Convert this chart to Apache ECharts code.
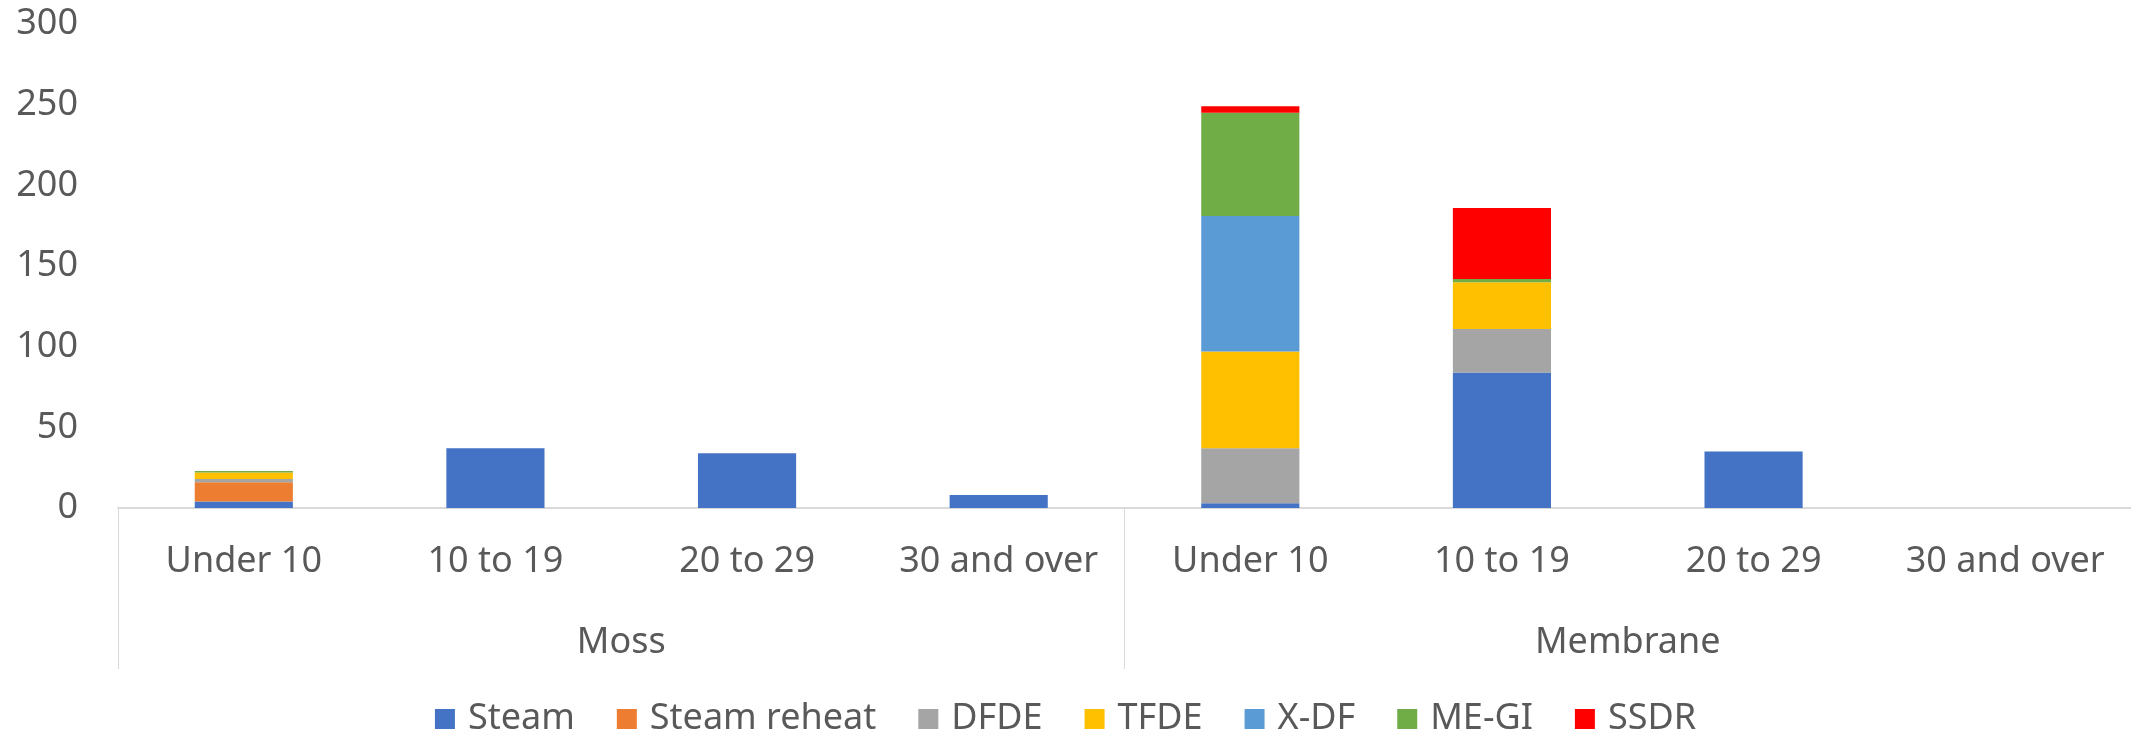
<!DOCTYPE html>
<html>
<head>
<meta charset="utf-8">
<script src="https://cdn.jsdelivr.net/npm/echarts@6/dist/echarts.min.js"></script>
<style>
  html, body { margin: 0; padding: 0; background: #fff; }
  #chart { width: 2131px; height: 735px; }
</style>
</head>
<body>
<div id="chart"></div>
<script>
// age bands, repeated for each containment type
const categories = ["Under 10", "10 to 19", "20 to 29", "30 and over",
                    "Under 10", "10 to 19", "20 to 29", "30 and over"];
const groups = ["Moss", "Membrane"];
const yTicks = [0, 50, 100, 150, 200, 250, 300];

// values, one per category
const steam       = [4, 37, 34, 8, 3, 84, 35, 0];
const steamReheat = [12, 0, 0, 0, 0, 0, 0, 0];
const dfde        = [2, 0, 0, 0, 34, 27, 0, 0];
const tfde        = [4, 0, 0, 0, 60, 29, 0, 0];
const xdf         = [0, 0, 0, 0, 84, 0, 0, 0];
const megi        = [1, 0, 0, 0, 64, 2, 0, 0];
const ssdr        = [0, 0, 0, 0, 4, 44, 0, 0];

const seriesList = [
  { name: "Steam", data: steam, color: "#4472C4" },
  { name: "Steam reheat", data: steamReheat, color: "#ED7D31" },
  { name: "DFDE", data: dfde, color: "#A5A5A5" },
  { name: "TFDE", data: tfde, color: "#FFC000" },
  { name: "X-DF", data: xdf, color: "#5B9BD5" },
  { name: "ME-GI", data: megi, color: "#70AD47" },
  { name: "SSDR", data: ssdr, color: "#FF0000" }
];

const font = "Noto Sans";
const textColor = "#595959";
const lineColor = "#D9D9D9";
const fs = 36;

const chart = echarts.init(document.getElementById("chart"));
chart.setOption({
  animation: false,
  textStyle: { fontFamily: font },
  legend: {
    top: 696,
    left: "center",
    itemWidth: 20,
    itemHeight: 20,
    itemGap: 42,
    icon: "rect",
    textStyle: { fontSize: fs, color: textColor, fontFamily: font, padding: [0, 0, 0, 8] },
    data: seriesList.map(s => s.name)
  },
  grid: { left: 118, right: 0, top: 24, bottom: 227 },
  xAxis: [
    {
      type: "category",
      data: categories,
      axisLine: { show: true, lineStyle: { color: lineColor, width: 2 } },
      axisTick: { show: false },
      axisLabel: { interval: 0, margin: 36, fontSize: fs, color: textColor, fontFamily: font }
    },
    {
      type: "category",
      data: groups,
      position: "bottom",
      axisLine: { show: false },
      axisTick: { show: true, length: 161, interval: 0, lineStyle: { color: lineColor, width: 1 } },
      axisLabel: { interval: 0, margin: 117, fontSize: fs, color: textColor, fontFamily: font },
      splitLine: { show: false }
    }
  ],
  yAxis: {
    type: "value",
    min: yTicks[0],
    max: yTicks[yTicks.length - 1],
    interval: 50,
    axisLine: { show: false },
    axisTick: { show: false },
    splitLine: { show: false },
    axisLabel: { margin: 40, fontSize: fs, color: textColor, fontFamily: font }
  },
  series: seriesList.map(s => ({
    name: s.name,
    type: "bar",
    stack: "total",
    xAxisIndex: 0,
    barWidth: "39%",
    itemStyle: { color: s.color },
    data: s.data
  }))
});
</script>
</body>
</html>
